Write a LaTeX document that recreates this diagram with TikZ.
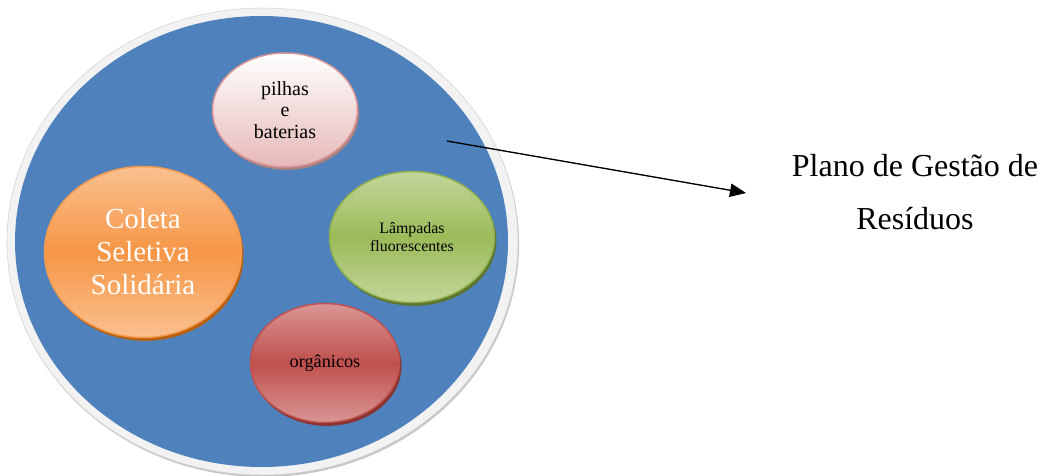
\documentclass[tikz,border=0pt]{standalone}
\usepackage{fontspec}
\setmainfont{Liberation Serif}
\usetikzlibrary{arrows.meta,shapes.geometric,shadows}
\definecolor{basketblue}{HTML}{4F81BD}
\definecolor{ringgray}{HTML}{F2F2F2}
\definecolor{pinkedge}{HTML}{D99694}
\definecolor{pinklow}{HTML}{E6B9B8}
\definecolor{pinkshade}{HTML}{A98180}
\definecolor{orangetop}{HTML}{F9C08F}
\definecolor{orangemid}{HTML}{F79646}
\definecolor{orangeedge}{HTML}{F59A4E}
\definecolor{orangeshade}{HTML}{B8600E}
\definecolor{greentop}{HTML}{C3D69B}
\definecolor{greenmid}{HTML}{9BBB59}
\definecolor{greenedge}{HTML}{8FB14E}
\definecolor{greenshade}{HTML}{5E7530}
\definecolor{redtop}{HTML}{D99694}
\definecolor{redmid}{HTML}{C0504D}
\definecolor{rededge}{HTML}{C0504D}
\definecolor{redshade}{HTML}{8B3432}

\begin{document}
\begin{tikzpicture}[x=0.75pt, y=-0.75pt,
  waste/.style={ellipse, draw, line width=1.1pt, inner sep=0pt, align=center},
  battery/.style={waste, draw=pinkedge, top color=white, bottom color=pinklow,
    minimum width=108.75pt, minimum height=85.5pt,
    drop shadow={shadow xshift=1.2pt, shadow yshift=-2.2pt, fill=pinkshade, opacity=1},
    font=\fontsize{15}{16.1}\selectfont},
  collect/.style={waste, draw=orangeedge, top color=orangetop, bottom color=orangetop, middle color=orangemid,
    minimum width=147.75pt, minimum height=128.25pt, text=white,
    drop shadow={shadow xshift=1.5pt, shadow yshift=-2.5pt, fill=orangeshade, opacity=1},
    font=\fontsize{21.75}{24.75}\selectfont},
  lamp/.style={waste, draw=greenedge, top color=greentop, bottom color=greentop, middle color=greenmid,
    minimum width=123.75pt, minimum height=98.25pt,
    drop shadow={shadow xshift=1.5pt, shadow yshift=-2.5pt, fill=greenshade, opacity=1},
    font=\fontsize{11.9}{13.1}\selectfont},
  organic/.style={waste, draw=rededge, top color=redtop, bottom color=redtop, middle color=redmid,
    minimum width=111.75pt, minimum height=89.25pt,
    drop shadow={shadow xshift=1.5pt, shadow yshift=-2.5pt, fill=redshade, opacity=1},
    font=\fontsize{13.7}{15}\selectfont},
  plan/.style={align=center, inner sep=0pt, font=\fontsize{24}{39.75}\selectfont},
  rel/.style={-{Triangle[length=12pt, width=10pt]}, line width=1pt}
]
\useasboundingbox (0,0) rectangle (1046,475);

% container
\node[ellipse, fill=ringgray, draw=gray!35, line width=0.4pt, inner sep=0pt,
  minimum width=383.25pt, minimum height=350.25pt,
  drop shadow={shadow xshift=0.8pt, shadow yshift=-1.5pt, fill=gray!45, opacity=1}] (ring) at (262.5,241.5) {};
\node[ellipse, fill=basketblue, inner sep=0pt,
  minimum width=369.75pt, minimum height=338.25pt] (basket) at (261.5,241.5) {};

% waste types
\node[battery] (pilhas) at (285,110) {pilhas\\e\\baterias};
\node[collect] (coleta) at (143,252) {Coleta\\Seletiva\\Solidária};
\node[lamp] (lampadas) at (412,237) {Lâmpadas\\fluorescentes};
\node[organic] (organicos) at (325,363) {orgânicos};

% plan
\coordinate (start) at (447,141);
\coordinate (tip) at (746,193);
\draw[rel] (start) -- (tip);
\node[plan] (plano) at (915,192) {Plano de Gestão de\\Resíduos};
\end{tikzpicture}
\end{document}
